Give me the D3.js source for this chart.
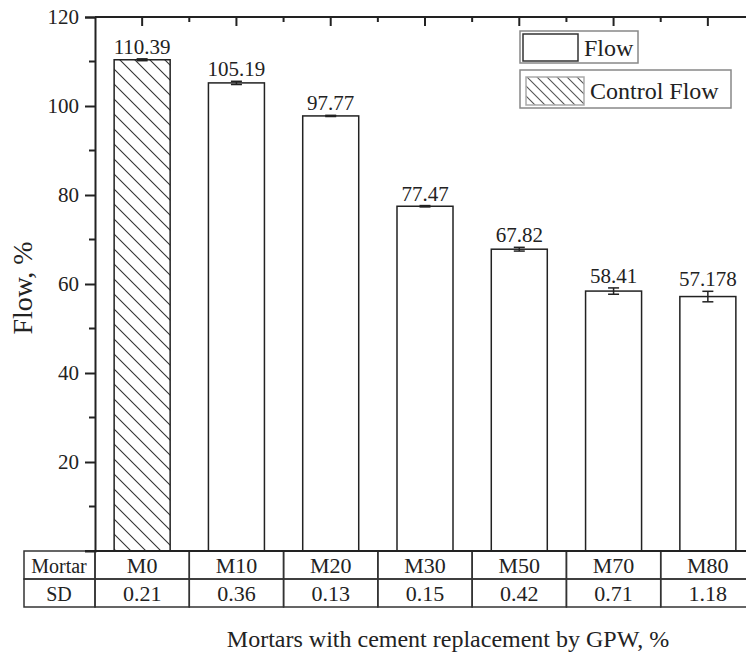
<!DOCTYPE html>
<html>
<head>
<meta charset="utf-8">
<script src="https://cdn.jsdelivr.net/npm/d3@7"></script>
<style>
    body { margin: 0; background: #fff; }
    svg { display: block; font-family: "Liberation Serif", "Times New Roman", serif; }
</style>
</head>
<body>
<div id="chart"></div>
<script>
const mortars = ['M0', 'M10', 'M20', 'M30', 'M50', 'M70', 'M80'];
const flowValues = [110.39, 105.19, 97.77, 77.47, 67.82, 58.41, 57.178];
const flowLabels = ['110.39', '105.19', '97.77', '77.47', '67.82', '58.41', '57.178'];
const sdValues = [0.21, 0.36, 0.13, 0.15, 0.42, 0.71, 1.18];
const sdLabels = ['0.21', '0.36', '0.13', '0.15', '0.42', '0.71', '1.18'];
const yTicks = [20, 40, 60, 80, 100, 120];
const legendItems = ['Flow', 'Control Flow'];

const width = 746;
const height = 655;
const ink = '#222';

const svg = d3.select('#chart')
    .append('svg')
    .attr('width', width)
    .attr('height', height);

// hatch patterns
const defs = svg.append('defs');
function addHatch(id, size, color) {
    defs.append('pattern')
        .attr('id', id)
        .attr('patternUnits', 'userSpaceOnUse')
        .attr('width', size)
        .attr('height', size)
        .append('path')
        .attr('d', `M0,0L${size},${size}M${-2},${size - 2}L2,${size + 2}M${size - 2},-2L${size + 2},2`)
        .attr('stroke', color)
        .attr('stroke-width', 1.1);
}
addHatch('hatch', 15, '#333');
addHatch('hatchSmall', 10, '#555');

const plotLeft = 95, plotRight = 755, plotTop = 17, plotBottom = 551;

const x = d3.scaleBand()
    .domain(mortars)
    .range([plotLeft, plotRight])
    .paddingInner(0.406)
    .paddingOuter(0.203);

const y = d3.scaleLinear()
    .domain([0, 120])
    .range([plotBottom, plotTop]);

const step = x.step();

// Bars
svg.append('g')
    .selectAll('rect')
    .data(mortars)
    .enter()
    .append('rect')
    .attr('x', d => x(d))
    .attr('y', (d, i) => y(flowValues[i]))
    .attr('width', x.bandwidth())
    .attr('height', (d, i) => plotBottom - y(flowValues[i]))
    .attr('fill', (d, i) => i === 0 ? 'url(#hatch)' : '#fff')
    .attr('stroke', ink)
    .attr('stroke-width', 1.5);

// Error bars
const err = svg.append('g')
    .attr('stroke', ink)
    .attr('stroke-width', 1.5);
mortars.forEach((m, i) => {
    const cx = x(m) + x.bandwidth() / 2;
    const y1 = y(flowValues[i] + sdValues[i]);
    const y2 = y(flowValues[i] - sdValues[i]);
    err.append('line').attr('x1', cx).attr('x2', cx).attr('y1', y1).attr('y2', y2);
    err.append('line').attr('x1', cx - 5.5).attr('x2', cx + 5.5).attr('y1', y1).attr('y2', y1);
    err.append('line').attr('x1', cx - 5.5).attr('x2', cx + 5.5).attr('y1', y2).attr('y2', y2);
});

// Value labels
svg.append('g')
    .selectAll('text')
    .data(mortars)
    .enter()
    .append('text')
    .attr('x', d => x(d) + x.bandwidth() / 2)
    .attr('y', (d, i) => y(flowValues[i] + sdValues[i]) - 5)
    .attr('text-anchor', 'middle')
    .attr('font-size', 21)
    .attr('fill', ink)
    .text((d, i) => flowLabels[i]);

// Left axis
const yAxis = d3.axisLeft(y)
    .tickValues(yTicks)
    .tickSize(10)
    .tickPadding(6)
    .tickFormat(d3.format('d'));
const yAxisG = svg.append('g')
    .attr('transform', `translate(${plotLeft},0)`)
    .call(yAxis)
    .attr('font-family', null);
yAxisG.select('.domain').attr('stroke', ink).attr('stroke-width', 2);
yAxisG.selectAll('.tick line').attr('stroke', ink).attr('stroke-width', 2);
yAxisG.selectAll('.tick text')
    .attr('font-size', 21)
    .attr('fill', ink);

// minor ticks and zero tick
const minorY = d3.range(0, 121, 10).filter(v => v % 20 !== 0);
yAxisG.selectAll('.minor')
    .data(minorY.concat([0]))
    .enter()
    .append('line')
    .attr('x1', d => d === 0 ? -10 : -6)
    .attr('x2', 0)
    .attr('y1', d => y(d))
    .attr('y2', d => y(d))
    .attr('stroke', ink)
    .attr('stroke-width', 2);

// Top axis with ticks pointing inward
const topG = svg.append('g');
topG.append('line')
    .attr('x1', plotLeft).attr('x2', plotRight)
    .attr('y1', plotTop).attr('y2', plotTop)
    .attr('stroke', ink).attr('stroke-width', 2);
mortars.forEach((m, i) => {
    const cx = x(m) + x.bandwidth() / 2;
    topG.append('line')
        .attr('x1', cx).attr('x2', cx)
        .attr('y1', plotTop).attr('y2', plotTop + 9)
        .attr('stroke', ink).attr('stroke-width', 2);
    if (i < mortars.length - 1) {
        topG.append('line')
            .attr('x1', cx + step / 2).attr('x2', cx + step / 2)
            .attr('y1', plotTop).attr('y2', plotTop + 5)
            .attr('stroke', ink).attr('stroke-width', 2);
    }
});
// right axis (just off the edge)
topG.append('line')
    .attr('x1', plotRight).attr('x2', plotRight)
    .attr('y1', plotTop).attr('y2', plotBottom)
    .attr('stroke', ink).attr('stroke-width', 2);

// Table under the plot
const rowH = 28;
const table = svg.append('g')
    .attr('stroke', '#333')
    .attr('stroke-width', 1.5)
    .attr('fill', 'none');
table.append('rect')
    .attr('x', 24).attr('y', plotBottom)
    .attr('width', plotLeft - 24).attr('height', rowH);
table.append('rect')
    .attr('x', 24).attr('y', plotBottom + rowH)
    .attr('width', plotLeft - 24).attr('height', rowH);
mortars.forEach(m => {
    const cx = x(m) + x.bandwidth() / 2;
    table.append('rect')
        .attr('x', cx - step / 2).attr('y', plotBottom)
        .attr('width', step).attr('height', rowH);
    table.append('rect')
        .attr('x', cx - step / 2).attr('y', plotBottom + rowH)
        .attr('width', step).attr('height', rowH);
});
// bottom axis line over the table
svg.append('line')
    .attr('x1', plotLeft - 10).attr('x2', plotRight)
    .attr('y1', plotBottom).attr('y2', plotBottom)
    .attr('stroke', ink).attr('stroke-width', 2);

const tableText = svg.append('g').attr('fill', ink);
tableText.append('text')
    .attr('x', 59).attr('y', plotBottom + 22)
    .attr('text-anchor', 'middle').attr('font-size', 20)
    .text('Mortar');
tableText.append('text')
    .attr('x', 59).attr('y', plotBottom + rowH + 22)
    .attr('text-anchor', 'middle').attr('font-size', 20)
    .text('SD');
tableText.selectAll('.mname')
    .data(mortars)
    .enter()
    .append('text')
    .attr('x', d => x(d) + x.bandwidth() / 2)
    .attr('y', plotBottom + 22)
    .attr('text-anchor', 'middle')
    .attr('font-size', 22)
    .text(d => d);
tableText.selectAll('.sd')
    .data(sdLabels)
    .enter()
    .append('text')
    .attr('x', (d, i) => x(mortars[i]) + x.bandwidth() / 2)
    .attr('y', plotBottom + rowH + 22)
    .attr('text-anchor', 'middle')
    .attr('font-size', 22)
    .text(d => d);

// Axis titles
svg.append('text')
    .attr('x', 448)
    .attr('y', 647)
    .attr('text-anchor', 'middle')
    .attr('font-size', 24)
    .attr('fill', ink)
    .text('Mortars with cement replacement by GPW, %');

svg.append('text')
    .attr('transform', 'translate(32,288) rotate(-90)')
    .attr('text-anchor', 'middle')
    .attr('font-size', 28)
    .attr('fill', ink)
    .text('Flow, %');

// Legend
const legend = svg.append('g');
const legendBoxes = [
    { x: 520, y: 31, w: 118, h: 32, sx: 523, sy: 34, sw: 55, sh: 27, fill: '#fff', swStroke: '#333' },
    { x: 520, y: 70, w: 211, h: 38, sx: 526, sy: 77, sw: 58, sh: 28, fill: 'url(#hatchSmall)', swStroke: '#aaa' }
];
legendItems.forEach((label, i) => {
    const b = legendBoxes[i];
    legend.append('rect')
        .attr('x', b.x).attr('y', b.y)
        .attr('width', b.w).attr('height', b.h)
        .attr('fill', '#fff')
        .attr('stroke', '#888')
        .attr('stroke-width', 1.5);
    legend.append('rect')
        .attr('x', b.sx).attr('y', b.sy)
        .attr('width', b.sw).attr('height', b.sh)
        .attr('fill', b.fill)
        .attr('stroke', b.swStroke)
        .attr('stroke-width', 1.5);
    legend.append('text')
        .attr('x', b.sx + b.sw + 6)
        .attr('y', b.sy + b.sh / 2 + 8)
        .attr('font-size', 24)
        .attr('fill', ink)
        .text(label);
});
</script>
</body>
</html>
